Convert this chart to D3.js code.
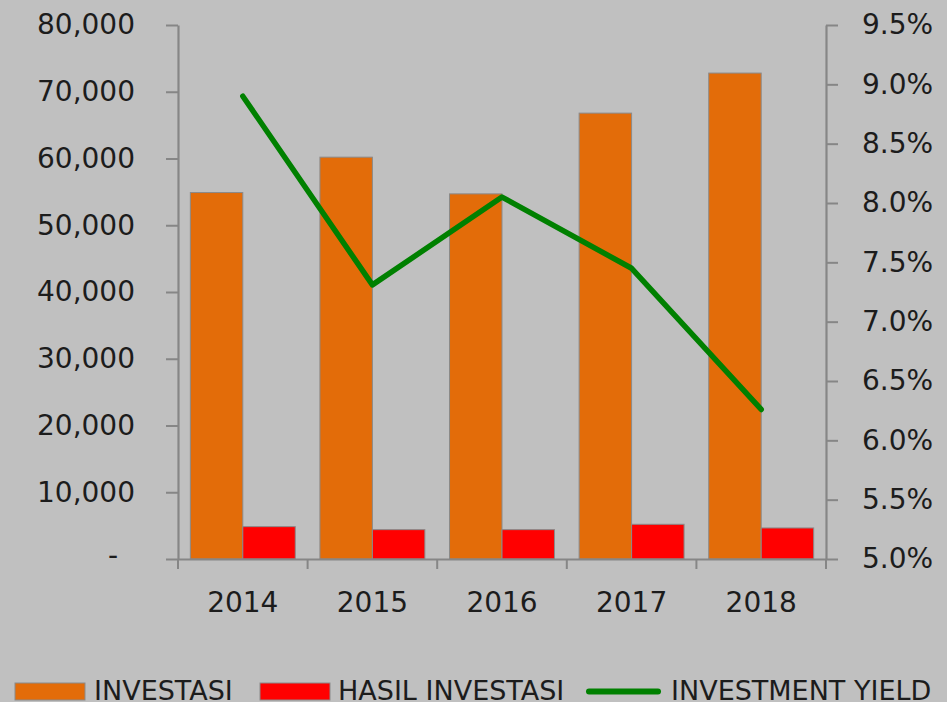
<!DOCTYPE html>
<html>
<head>
<meta charset="utf-8">
<script src="https://cdn.jsdelivr.net/npm/d3@7"></script>
<style>
  html, body { margin: 0; padding: 0; background: #c0c0c0; }
  svg { display: block; }
  text { font-family: "DejaVu Sans", sans-serif; fill: #1c1c1c; }
</style>
</head>
<body>
<svg id="chart" width="947" height="702"></svg>
<script>
// ---- data ----
const years = ["2014", "2015", "2016", "2017", "2018"];
const investasi = [54900, 60200, 54700, 66800, 72800];
const hasilInvestasi = [4850, 4400, 4400, 5200, 4650];
const investmentYield = [0.0890, 0.0731, 0.0805, 0.0745, 0.0626];
const leftTicks = [0, 10000, 20000, 30000, 40000, 50000, 60000, 70000, 80000];
const rightTicks = [0.05, 0.055, 0.06, 0.065, 0.07, 0.075, 0.08, 0.085, 0.09, 0.095];
const seriesNames = ["INVESTASI", "HASIL INVESTASI", "INVESTMENT YIELD"];

// ---- styles ----
const colInv = "#e36c09", colHasil = "#ff0000", colYield = "#008000";
const axisCol = "#868686";

const svg = d3.select("#chart");
const pLeft = 178, pRight = 826, pTop = 25, pBottom = 559;

const x = d3.scaleBand().domain(years).range([pLeft, pRight]).paddingInner(0).paddingOuter(0);
const x1 = d3.scaleBand().domain(["inv", "hasil"]).range([0, x.bandwidth()]).paddingInner(0).paddingOuter(0.235);
const yL = d3.scaleLinear().domain([0, 80000]).range([pBottom, pTop]);
const yR = d3.scaleLinear().domain([0.05, 0.095]).range([pBottom, pTop]);

const rows = years.map((y, i) => ({ year: y, inv: investasi[i], hasil: hasilInvestasi[i], yld: investmentYield[i] }));

// bars
const g = svg.append("g");
g.selectAll("rect.inv").data(rows).join("rect")
  .attr("x", d => x(d.year) + x1("inv"))
  .attr("y", d => yL(d.inv))
  .attr("width", x1.bandwidth())
  .attr("height", d => yL(0) - yL(d.inv))
  .attr("fill", colInv).attr("stroke", "#8a8a8a").attr("stroke-width", 1);
g.selectAll("rect.hasil").data(rows).join("rect")
  .attr("x", d => x(d.year) + x1("hasil"))
  .attr("y", d => yL(d.hasil))
  .attr("width", x1.bandwidth())
  .attr("height", d => yL(0) - yL(d.hasil))
  .attr("fill", colHasil).attr("stroke", "#8a8a8a").attr("stroke-width", 1);

// left axis
const fmt = d3.format(",");
const ax = svg.append("g").attr("transform", `translate(${pLeft},0)`)
  .call(d3.axisLeft(yL).tickValues(leftTicks).tickSize(12).tickSizeOuter(0).tickPadding(31)
    .tickFormat(d => d === 0 ? "-" : fmt(d)));
ax.selectAll("text").style("font-size", "28px").attr("font-family", "DejaVu Sans");
ax.selectAll(".tick").filter(d => d === 0).select("text").attr("x", -60).attr("dy", "0.2em");

// right axis
const ar = svg.append("g").attr("transform", `translate(${pRight},0)`)
  .call(d3.axisRight(yR).tickValues(rightTicks).tickSize(12).tickSizeOuter(0).tickPadding(24)
    .tickFormat(d3.format(".1%")));
ar.selectAll("text").style("font-size", "28px");

// bottom axis
const ab = svg.append("g").attr("transform", `translate(0,${pBottom})`)
  .call(d3.axisBottom(x).tickSize(0).tickSizeOuter(0).tickPadding(33));
ab.selectAll("text").style("font-size", "28px");
const bounds = years.map(y => x(y)).concat([x(years[years.length - 1]) + x.bandwidth()]);
ab.selectAll("line.bt").data(bounds).join("line")
  .attr("x1", d => d).attr("x2", d => d).attr("y1", 0).attr("y2", 10)
  .attr("stroke", axisCol).attr("stroke-width", 2);

[ax, ar, ab].forEach(a => {
  a.selectAll("path.domain").attr("stroke", axisCol).attr("stroke-width", 2.2);
  a.selectAll(".tick line").attr("stroke", axisCol).attr("stroke-width", 2);
  a.selectAll("text").attr("fill", "#1c1c1c");
});

// line
const line = d3.line().x(d => x(d.year) + x.bandwidth() / 2).y(d => yR(d.yld));
svg.append("path").datum(rows).attr("d", line)
  .attr("fill", "none").attr("stroke", colYield).attr("stroke-width", 5.5)
  .attr("stroke-linejoin", "round").attr("stroke-linecap", "round");

// legend
const leg = svg.append("g");
const legX = [15, 260, 586];
const legTextX = [94, 338, 671];
const legColors = [colInv, colHasil, colYield];
seriesNames.forEach((name, i) => {
  if (i < 2) {
    leg.append("rect").attr("x", legX[i]).attr("y", 683).attr("width", 70).attr("height", 17)
      .attr("fill", legColors[i]).attr("stroke", "#8a8a8a").attr("stroke-width", 1);
  } else {
    leg.append("line").attr("x1", legX[i] + 3).attr("x2", legX[i] + 72).attr("y1", 691.5).attr("y2", 691.5)
      .attr("stroke", legColors[i]).attr("stroke-width", 6).attr("stroke-linecap", "round");
  }
  leg.append("text").attr("x", legTextX[i]).attr("y", 700)
    .attr("font-family", "DejaVu Sans Condensed, DejaVu Sans")
    .style("font-size", "27px")
    .attr("fill", "#1c1c1c")
    .text(name);
});
</script>
</body>
</html>
